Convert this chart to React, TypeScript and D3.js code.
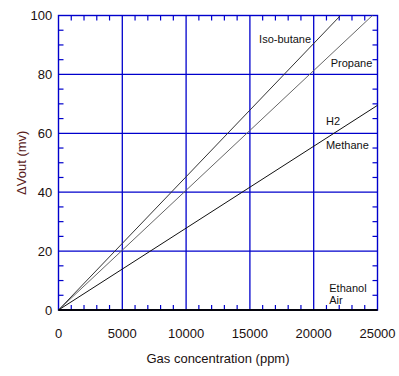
import React from "react";
import * as d3 from "d3";

const xTicks = [0, 5000, 10000, 15000, 20000, 25000];
const yTicks = [0, 20, 40, 60, 80, 100];
const seriesNames = ["Iso-butane", "Propane", "Methane", "Ethanol", "Air"];
const seriesX = [
  [0, 22100],
  [0, 24600],
  [0, 25000],
  [0, 25000],
  [0, 25000],
];
const seriesY = [
  [0, 100],
  [0, 100],
  [0, 69.5],
  [0, 0],
  [0, 0],
];
const seriesColors = ["#333333", "#666666", "#111111", "#000000", "#000000"];
const labels = [
  { text: "Iso-butane", x: 15720, y: 90.6 },
  { text: "Propane", x: 21330, y: 82.6 },
  { text: "H2", x: 20960, y: 62.8 },
  { text: "Methane", x: 20960, y: 54.7 },
  { text: "Ethanol", x: 21220, y: 6.1 },
  { text: "Air", x: 21220, y: 2.0 },
];

export default function App() {
  const W = 399, H = 376;
  const left = 58.5, right = 377.5, top = 15.5, bottom = 310;
  const x = d3.scaleLinear().domain([0, 25000]).range([left, right]);
  const y = d3.scaleLinear().domain([0, 100]).range([bottom, top]);
  const blue = "#0000cc";
  const xMinor = d3.range(0, 25001, 1000).filter((v) => v % 5000 !== 0);
  const yMinor = d3.range(0, 101, 5).filter((v) => v % 20 !== 0);
  const line = d3
    .line<[number, number]>()
    .x((d) => x(d[0]))
    .y((d) => y(d[1]));
  const font = "'Liberation Sans', Arial, sans-serif";
  const textColor = "#1a1010";
  return (
    <svg width={W} height={H} style={{ position: "absolute", left: 0, top: 0, background: "#fff" }}>
      <rect width={W} height={H} fill="#fff" />
      {/* grid */}
      {xTicks.slice(1, -1).map((t) => (
        <line key={"gx" + t} x1={x(t)} x2={x(t)} y1={top} y2={bottom} stroke={blue} strokeWidth={1.3} />
      ))}
      {yTicks.slice(1, -1).map((t) => (
        <line key={"gy" + t} y1={y(t)} y2={y(t)} x1={left} x2={right} stroke={blue} strokeWidth={1.3} />
      ))}
      {/* minor ticks */}
      {xMinor.map((t) => (
        <g key={"mx" + t}>
          <line x1={x(t)} x2={x(t)} y1={bottom} y2={bottom - 5} stroke={blue} strokeWidth={1.2} />
          <line x1={x(t)} x2={x(t)} y1={top} y2={top + 5} stroke={blue} strokeWidth={1.2} />
        </g>
      ))}
      {yMinor.map((t) => (
        <g key={"my" + t}>
          <line x1={left} x2={left + 5} y1={y(t)} y2={y(t)} stroke={blue} strokeWidth={1.2} />
          <line x1={right} x2={right - 5} y1={y(t)} y2={y(t)} stroke={blue} strokeWidth={1.2} />
        </g>
      ))}
      {/* frame */}
      <rect x={left} y={top} width={right - left} height={bottom - top} fill="none" stroke={blue} strokeWidth={1.4} />
      {/* series */}
      {seriesNames.map((n, i) => (
        <path
          key={n}
          d={line(seriesX[i].map((v, j) => [v, seriesY[i][j]] as [number, number])) || ""}
          fill="none"
          stroke={seriesColors[i]}
          strokeWidth={i >= 3 ? 1.6 : 1}
        />
      ))}
      {/* tick labels */}
      {xTicks.map((t) => (
        <text key={"tx" + t} x={x(t)} y={337.5} textAnchor="middle" fontFamily={font} fontSize={13} fill={textColor}>
          {t}
        </text>
      ))}
      {yTicks.map((t) => (
        <text key={"ty" + t} x={52.3} y={y(t) + 4.5} textAnchor="end" fontFamily={font} fontSize={13} fill={textColor}>
          {t}
        </text>
      ))}
      {/* axis titles */}
      <text x={(left + right) / 2} y={363} textAnchor="middle" fontFamily={font} fontSize={13} fill={textColor}>
        Gas concentration (ppm)
      </text>
      <text
        transform={`translate(26, ${(top + bottom) / 2}) rotate(-90)`}
        textAnchor="middle"
        fontFamily={font}
        fontSize={13}
        fill="#5a1c1c"
      >
        ΔVout (mv)
      </text>
      {/* annotations */}
      {labels.map((l) => (
        <text key={l.text} x={x(l.x)} y={y(l.y)} fontFamily={font} fontSize={11} fill="#111">
          {l.text}
        </text>
      ))}
    </svg>
  );
}
